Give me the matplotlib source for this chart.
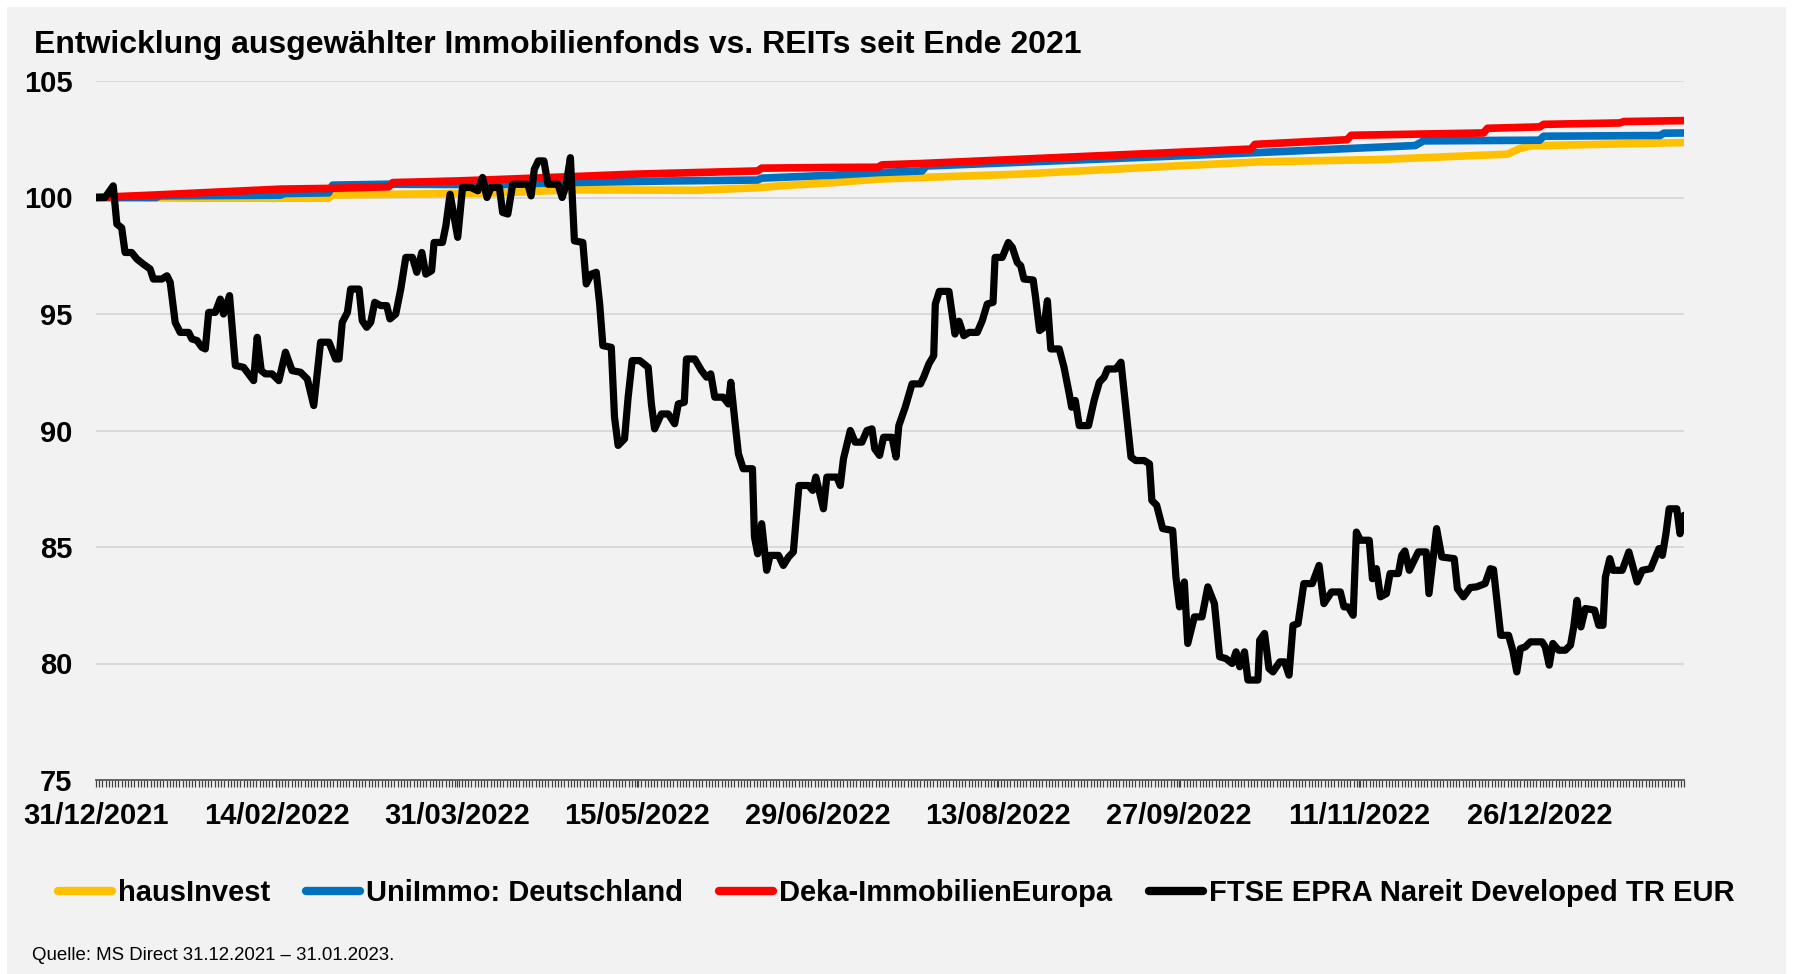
import numpy as np
import matplotlib
matplotlib.use('Agg')
import matplotlib.pyplot as plt
import matplotlib.dates as mdates
from matplotlib.patches import Rectangle
from matplotlib.ticker import FixedLocator, MultipleLocator

plt.rcParams['font.family'] = ['Liberation Sans', 'DejaVu Sans']

# --- data (days after 31/12/2021, index level) ---
ftse_days = [0, 2.25, 4.3, 5.2, 6.4, 7.25, 8.9, 10.2, 11.8, 13.5, 14.3, 16.4, 17.7, 18.5,
             19.75, 21, 23.1, 23.9, 25.2, 26.4, 27.25, 28.1, 29.75, 31, 31.8, 33.3, 34.75,
             36.8, 39.3, 40.2, 41.2, 42.25, 43.9, 45.6, 47.25, 48.9, 51, 52.7, 54.3, 56,
             58.1, 59.75, 60.6, 61.4, 62.7, 63.5, 65.6, 66.4, 67.5, 68.5, 69.5, 71, 72.5,
             73.3, 74.75, 76, 77.25, 78.9, 80, 81.25, 82.25, 83.7, 84.3, 86.4, 87.25, 88.3,
             90.2, 91.4, 93.5, 95.2, 96.4, 97.5, 98.5, 100.6, 101.4, 102.7, 103.9, 107.7,
             108.5, 109.3, 110.3, 111.7, 112.7, 115.2, 116.25, 117.25, 118.3, 119.3, 121.4,
             122.25, 123.5, 124.75, 125.6, 126.4, 128.5, 129.3, 130.2, 131.8, 132.7, 133.7,
             135.6, 137.7, 138.5, 139.3, 141, 142.7, 144.3, 145.2, 146.7, 147.25, 149.3, 151,
             152.25, 153.3, 154.3, 156.4, 157.7, 158.3, 159.3, 160.2, 161.4, 163.7, 164.2,
             165, 166, 167.25, 168.1, 170.2, 171.4, 172.7, 173.9, 175.3, 177.7, 178.7, 179.5,
             181.4, 182.25, 184.75, 185.6, 186.4, 188.1, 189.3, 191, 192.25, 193.5, 194.2,
             195.4, 196.4, 198.5, 199.5, 200.2, 201.8, 203.5, 205.6, 206.4, 207.7, 208.9,
             209.3, 210.3, 212.7, 214.2, 215.2, 216.4, 217.7, 219.75, 221, 222.25, 223.7,
             224.2, 226, 227.5, 228.5, 229.75, 230.6, 231.4, 233.7, 234.3, 235.3, 236.4,
             237.25, 238.1, 240.2, 241.4, 242.7, 243.3, 244.2, 245.2, 247.5, 248.9, 250.2,
             251.4, 252.25, 254.3, 255.6, 258.1, 259.3, 261.4, 262.7, 263.3, 264.5, 266,
             268.5, 269.3, 270.2, 271.4, 272.25, 273.9, 275.8, 277.25, 278.9, 280.2, 281.8,
             283.3, 284.3, 285.2, 286.4, 287.25, 289.75, 290.2, 291.4, 292.5, 293.5, 295.2,
             296.4, 297.5, 298.5, 299.75, 301.2, 303.3, 305.0, 306.2, 308.1, 310.3, 311.2,
             312.25, 313.5, 314.3, 315.3, 317.5, 318.3, 319.3, 320.3, 321.8, 322.7, 324.75,
             325.6, 326.4, 327.5, 329.75, 331.7, 332.4, 334.3, 335.6, 338.7, 339.5, 341,
             342.7, 344.3, 346.4, 347.7, 348.5, 350.3, 352.25, 353.3, 354.3, 355.2, 356.4,
             357.7, 360.6, 361.4, 362.4, 363.3, 364.75, 366.4, 367.7, 368.5, 369.3, 370.3,
             371.4, 373.7, 374.75, 375.8, 376.4, 377.5, 378.3, 380.6, 382.25, 384.3, 385.6,
             387.7, 388.9, 389.75, 390.6, 391.5, 392.3, 394.2, 395.0, 396]
ftse_vals = [100.0, 100.0, 100.5, 98.86, 98.7, 97.64, 97.64, 97.36, 97.14, 96.93, 96.5, 96.5,
             96.64, 96.36, 94.64, 94.21, 94.21, 93.93, 93.86, 93.57, 93.5, 95.07, 95.07, 95.64,
             95.0, 95.79, 92.79, 92.71, 92.14, 94.0, 92.57, 92.43, 92.43, 92.14, 93.36, 92.57,
             92.5, 92.21, 91.07, 93.79, 93.79, 93.07, 93.07, 94.64, 95.07, 96.07, 96.07, 94.71,
             94.43, 94.64, 95.5, 95.36, 95.36, 94.79, 95.0, 96.07, 97.43, 97.43, 96.79, 97.64,
             96.71, 96.86, 98.07, 98.07, 98.79, 100.14, 98.29, 100.43, 100.43, 100.29, 100.86,
             100.0, 100.43, 100.43, 99.36, 99.29, 100.57, 100.57, 100.07, 101.21, 101.57,
             101.57, 100.57, 100.57, 100.0, 100.57, 101.71, 98.14, 98.07, 96.29, 96.71, 96.79,
             95.43, 93.64, 93.57, 90.57, 89.36, 89.64, 91.43, 93.0, 93.0, 92.71, 91.14, 90.07,
             90.71, 90.71, 90.29, 91.14, 91.21, 93.07, 93.07, 92.57, 92.29, 92.43, 91.43, 91.43,
             91.14, 92.07, 90.43, 89.0, 88.36, 88.36, 85.43, 84.71, 86.0, 84.0, 84.64, 84.64,
             84.21, 84.57, 84.79, 87.64, 87.64, 87.43, 88.0, 86.64, 88.0, 88.0, 87.64, 88.79,
             90.0, 89.5, 89.5, 90.0, 90.07, 89.21, 88.93, 89.71, 89.71, 88.86, 90.21, 91.0,
             92.0, 92.0, 92.29, 92.86, 93.21, 95.43, 95.97, 95.97, 94.14, 94.69, 94.07, 94.21,
             94.21, 94.71, 95.43, 95.5, 97.43, 97.43, 98.07, 97.86, 97.21, 97.07, 96.5, 96.46,
             95.71, 94.29, 94.43, 95.57, 93.5, 93.5, 92.71, 91.57, 91.0, 91.29, 90.21, 90.21,
             91.29, 92.07, 92.29, 92.64, 92.64, 92.93, 88.86, 88.71, 88.71, 88.57, 87.0, 86.79,
             85.79, 85.71, 83.71, 82.43, 83.5, 80.86, 82.0, 82.0, 83.29, 82.57, 80.29, 80.21,
             80.0, 80.5, 79.86, 80.5, 79.29, 79.29, 81.0, 81.29, 79.79, 79.64, 80.07, 80.07,
             79.5, 81.64, 81.71, 83.43, 83.43, 84.21, 82.57, 83.07, 83.07, 82.43, 82.43, 82.07,
             85.64, 85.29, 85.29, 83.64, 84.07, 82.86, 83.0, 83.86, 83.86, 84.64, 84.83, 84.0,
             84.79, 84.79, 83.0, 85.79, 84.57, 84.5, 83.21, 82.86, 83.26, 83.29, 83.43, 84.07,
             84.03, 81.21, 81.21, 80.57, 79.64, 80.64, 80.71, 80.93, 80.93, 80.71, 79.93, 80.86,
             80.57, 80.57, 80.79, 81.57, 82.71, 81.57, 82.36, 82.29, 81.64, 81.64, 83.71, 84.5,
             84.0, 84.0, 84.79, 83.5, 84.0, 84.07, 84.57, 84.93, 84.64, 85.57, 86.64, 86.64,
             85.57, 86.36]

haus_days = [0, 25, 58, 59, 75, 100, 119, 150, 165, 172, 184, 195, 206, 230, 262, 290, 320,
             348, 352, 355, 358, 380, 396]
haus_vals = [100.0, 99.97, 99.97, 100.11, 100.14, 100.2, 100.33, 100.31, 100.42, 100.52,
             100.64, 100.79, 100.86, 101.0, 101.29, 101.53, 101.63, 101.83, 101.86, 102.1,
             102.22, 102.3, 102.36]

uni_days = [0, 15, 16, 46, 47, 58, 59, 73, 101, 117, 143, 165, 166, 184, 195, 206, 207, 262,
            290, 329, 331, 360, 361, 390, 391, 396]
uni_vals = [100.0, 100.0, 100.07, 100.1, 100.17, 100.2, 100.53, 100.57, 100.55, 100.64,
            100.71, 100.75, 100.83, 100.96, 101.07, 101.14, 101.35, 101.73, 101.93, 102.23,
            102.43, 102.46, 102.63, 102.66, 102.76, 102.77]

deka_days = [0, 15, 46, 58, 73, 74, 90, 103, 134, 165, 166, 184, 195, 196, 206, 262, 288, 289,
             312, 313, 346, 347, 360, 361, 380, 381, 396]
deka_vals = [100.0, 100.11, 100.36, 100.39, 100.46, 100.64, 100.71, 100.79, 101.0, 101.14,
             101.26, 101.29, 101.3, 101.4, 101.46, 101.88, 102.08, 102.28, 102.48, 102.67,
             102.77, 102.97, 103.03, 103.14, 103.2, 103.26, 103.3]

series_names = ['hausInvest', 'UniImmo: Deutschland', 'Deka-ImmobilienEuropa',
                'FTSE EPRA Nareit Developed TR EUR']
series_colors = ['#FFC000', '#0070C0', '#FF0000', '#000000']

title = 'Entwicklung ausgewählter Immobilienfonds vs. REITs seit Ende 2021'
source = 'Quelle: MS Direct 31.12.2021 \u2013 31.01.2023.'

W, H = 1793, 974
fig = plt.figure(figsize=(W / 100, H / 100), dpi=100)
fig.patch.set_facecolor('white')
fig.add_artist(Rectangle((7 / W, 0), (W - 14) / W, (H - 7) / H, transform=fig.transFigure,
                         facecolor='#F2F2F2', edgecolor='none', zorder=-10))

start = mdates.date2num(np.datetime64('2021-12-31'))

ax = fig.add_axes([96 / W, 1 - 780 / H, (1684 - 96) / W, (780 - 81) / H])
ax.set_facecolor('none')

data = [(haus_days, haus_vals), (uni_days, uni_vals), (deka_days, deka_vals),
        (ftse_days, ftse_vals)]
for i, (d, v) in enumerate(data):
    lw = 5.2 if i == 3 else 5.5
    ax.plot(start + np.array(d), v, color=series_colors[i], lw=lw, label=series_names[i],
            solid_capstyle='round', solid_joinstyle='round', zorder=3 + i)

ax.set_xlim(start, start + 396)
ax.set_ylim(75, 105)
ax.set_yticks([75, 80, 85, 90, 95, 100, 105])
ax.yaxis.grid(True, color='#D9D9D9', lw=1.4)
ax.set_axisbelow(True)

ax.xaxis.set_major_locator(FixedLocator(start + 45 * np.arange(9)))
ax.xaxis.set_minor_locator(MultipleLocator(0.8))
ax.xaxis.set_major_formatter(mdates.DateFormatter('%d/%m/%Y'))

for s in ['top', 'right', 'left']:
    ax.spines[s].set_visible(False)
ax.spines['bottom'].set_color('#595959')
ax.spines['bottom'].set_linewidth(1.3)

ax.tick_params(axis='y', length=0, pad=17, labelsize=21)
ax.tick_params(axis='x', which='both', length=5, width=0.9, color='#404040', pad=11,
               labelsize=21)
for lab in ax.get_xticklabels() + ax.get_yticklabels():
    lab.set_fontweight('bold')

fig.text(34 / W, 1 - 45 / H, title, fontsize=23, fontweight='bold', va='center', ha='left')

leg = fig.legend(loc='center', bbox_to_anchor=((55 + 1737) / 2 / W, 1 - 893 / H), ncol=4,
                 frameon=False, handlelength=1.85, handletextpad=0.2, columnspacing=1.25,
                 prop={'weight': 'bold', 'size': 21})
for line in leg.get_lines():
    line.set_linewidth(6)
    line.set_solid_capstyle('round')

fig.text(32 / W, 1 - 956 / H, source, fontsize=13.4, va='center', ha='left')

fig.savefig('out.png', dpi=100, facecolor=fig.get_facecolor())
